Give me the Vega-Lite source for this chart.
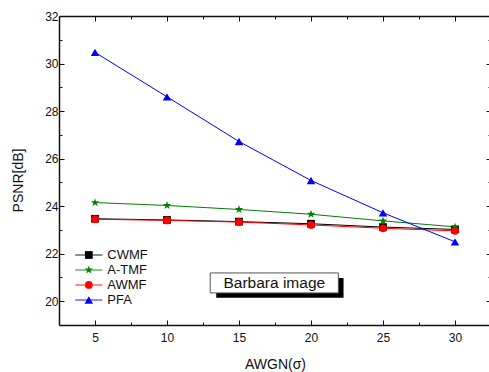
{
  "$schema": "https://vega.github.io/schema/vega-lite/v6.json",
  "width": 432,
  "height": 309,
  "autosize": {"type": "none"},
  "padding": {"left": 59, "top": 16, "right": 0, "bottom": 47},
  "background": "white",
  "config": {
    "view": {"stroke": null},
    "font": "Liberation Sans",
    "axis": {"grid": false, "domainColor": "#111", "domainWidth": 1.5, "tickColor": "#111", "tickWidth": 1, "labelFont": "Liberation Sans", "labelFontSize": 12, "labelColor": "#111", "titleFont": "Liberation Sans", "titleFontWeight": "normal", "titleColor": "#111"}
  },
  "datasets": {
    "psnr": [
      {"s": 5, "m": "CWMF", "v": 23.47}, {"s": 10, "m": "CWMF", "v": 23.42}, {"s": 15, "m": "CWMF", "v": 23.35}, {"s": 20, "m": "CWMF", "v": 23.26}, {"s": 25, "m": "CWMF", "v": 23.12}, {"s": 30, "m": "CWMF", "v": 23.02},
      {"s": 5, "m": "A-TMF", "v": 24.15}, {"s": 10, "m": "A-TMF", "v": 24.03}, {"s": 15, "m": "A-TMF", "v": 23.86}, {"s": 20, "m": "A-TMF", "v": 23.66}, {"s": 25, "m": "A-TMF", "v": 23.38}, {"s": 30, "m": "A-TMF", "v": 23.13},
      {"s": 5, "m": "AWMF", "v": 23.45}, {"s": 10, "m": "AWMF", "v": 23.40}, {"s": 15, "m": "AWMF", "v": 23.33}, {"s": 20, "m": "AWMF", "v": 23.21}, {"s": 25, "m": "AWMF", "v": 23.07}, {"s": 30, "m": "AWMF", "v": 22.96},
      {"s": 5, "m": "PFA", "v": 30.47}, {"s": 10, "m": "PFA", "v": 28.6}, {"s": 15, "m": "PFA", "v": 26.72}, {"s": 20, "m": "PFA", "v": 25.08}, {"s": 25, "m": "PFA", "v": 23.72}, {"s": 30, "m": "PFA", "v": 22.5}
    ],
    "legend": [
      {"m": "CWMF", "lx1": 3.63, "lx2": 5.51, "px": 4.57, "tx": 5.85, "ly": 21.945},
      {"m": "A-TMF", "lx1": 3.63, "lx2": 5.51, "px": 4.57, "tx": 5.85, "ly": 21.314},
      {"m": "AWMF", "lx1": 3.63, "lx2": 5.51, "px": 4.57, "tx": 5.85, "ly": 20.683},
      {"m": "PFA", "lx1": 3.63, "lx2": 5.51, "px": 4.57, "tx": 5.85, "ly": 20.052}
    ],
    "note": [
      {"label": "Barbara image", "x1": 13.0, "x2": 21.9, "y1": 21.19, "y2": 20.35, "sx1": 13.42, "sx2": 22.26, "sy1": 20.98, "sy2": 20.15, "tx": 17.45, "ty": 20.77}
    ]
  },
  "resolve": {"axis": {"x": "independent", "y": "independent"}},
  "layer": [
    {
      "data": {"name": "psnr"},
      "mark": {"type": "line", "strokeWidth": 1},
      "encoding": {
        "x": {"field": "s", "type": "quantitative", "scale": {"domain": [2.5, 32.5], "nice": false, "zero": false},
          "axis": {"orient": "bottom", "title": "AWGN(σ)", "titleFontSize": 14, "titlePadding": 14, "values": [5, 7.5, 10, 12.5, 15, 17.5, 20, 22.5, 25, 27.5, 30], "labelExpr": "datum.value % 5 === 0 ? datum.label : ''", "tickSize": {"condition": {"test": "datum.value % 5 !== 0", "value": -3}, "value": -5}, "labelPadding": 12}},
        "y": {"field": "v", "type": "quantitative", "scale": {"domain": [19, 32], "nice": false, "zero": false},
          "axis": {"orient": "left", "title": "PSNR[dB]", "titleFontSize": 14, "titlePadding": 19, "titleY": 164, "values": [19, 20, 21, 22, 23, 24, 25, 26, 27, 28, 29, 30, 31, 32], "labelExpr": "datum.value % 2 === 0 ? datum.label : ''", "tickSize": {"condition": {"test": "datum.value % 2 !== 0", "value": -3}, "value": -5}, "labelPadding": 6}},
        "color": {"field": "m", "type": "nominal", "scale": {"domain": ["CWMF", "A-TMF", "AWMF", "PFA"], "range": ["#000000", "#008000", "#ff0000", "#0000ff"]}, "legend": null},
        "order": {"field": "s"}
      }
    },
    {
      "data": {"name": "psnr"},
      "mark": {"type": "point", "filled": true, "opacity": 1, "size": 60, "strokeWidth": 0.5},
      "encoding": {
        "x": {"field": "s", "type": "quantitative",
          "axis": {"orient": "top", "title": null, "labels": false, "values": [5, 7.5, 10, 12.5, 15, 17.5, 20, 22.5, 25, 27.5, 30], "tickSize": {"condition": {"test": "datum.value % 5 !== 0", "value": -3}, "value": -5}}},
        "y": {"field": "v", "type": "quantitative",
          "axis": {"orient": "right", "title": null, "labels": false, "values": [19, 20, 21, 22, 23, 24, 25, 26, 27, 28, 29, 30, 31, 32], "tickSize": {"condition": {"test": "datum.value % 2 !== 0", "value": -3}, "value": -5}}},
        "color": {"field": "m", "type": "nominal", "legend": null},
        "shape": {"field": "m", "type": "nominal", "legend": null, "scale": {"domain": ["CWMF", "A-TMF", "AWMF", "PFA"], "range": ["square", "M0,-1.15L0.26,-0.36L1.09,-0.36L0.42,0.14L0.68,0.93L0,0.44L-0.68,0.93L-0.42,0.14L-1.09,-0.36L-0.26,-0.36Z", "circle", "M0,-0.95L1.1,0.95L-1.1,0.95Z"]}}
      }
    },
    {
      "data": {"name": "legend"},
      "mark": {"type": "rule", "strokeWidth": 1.2, "opacity": 0.75},
      "encoding": {
        "x": {"field": "lx1", "type": "quantitative", "axis": null}, "x2": {"field": "lx2"},
        "y": {"field": "ly", "type": "quantitative", "axis": null},
        "color": {"field": "m", "type": "nominal", "legend": null}
      }
    },
    {
      "data": {"name": "legend"},
      "mark": {"type": "point", "filled": true, "opacity": 1, "size": 60, "strokeWidth": 0.5},
      "encoding": {
        "x": {"field": "px", "type": "quantitative", "axis": null},
        "y": {"field": "ly", "type": "quantitative", "axis": null},
        "color": {"field": "m", "type": "nominal", "legend": null},
        "shape": {"field": "m", "type": "nominal", "legend": null}
      }
    },
    {
      "data": {"name": "legend"},
      "mark": {"type": "text", "fontSize": 13, "font": "Liberation Sans", "color": "#111", "align": "left", "baseline": "middle", "dy": 0.5},
      "encoding": {
        "x": {"field": "tx", "type": "quantitative", "axis": null},
        "y": {"field": "ly", "type": "quantitative", "axis": null},
        "text": {"field": "m"}
      }
    },
    {
      "data": {"name": "note"},
      "mark": {"type": "rect", "fill": "#000000"},
      "encoding": {
        "x": {"field": "sx1", "type": "quantitative", "axis": null}, "x2": {"field": "sx2"},
        "y": {"field": "sy1", "type": "quantitative", "axis": null}, "y2": {"field": "sy2"}
      }
    },
    {
      "data": {"name": "note"},
      "mark": {"type": "rect", "fill": "#ffffff", "stroke": "#555555", "strokeWidth": 1},
      "encoding": {
        "x": {"field": "x1", "type": "quantitative", "axis": null}, "x2": {"field": "x2"},
        "y": {"field": "y1", "type": "quantitative", "axis": null}, "y2": {"field": "y2"}
      }
    },
    {
      "data": {"name": "note"},
      "mark": {"type": "text", "fontSize": 15.5, "font": "Liberation Sans", "color": "#111", "align": "center", "baseline": "middle"},
      "encoding": {
        "x": {"field": "tx", "type": "quantitative", "axis": null},
        "y": {"field": "ty", "type": "quantitative", "axis": null},
        "text": {"field": "label"}
      }
    }
  ]
}
